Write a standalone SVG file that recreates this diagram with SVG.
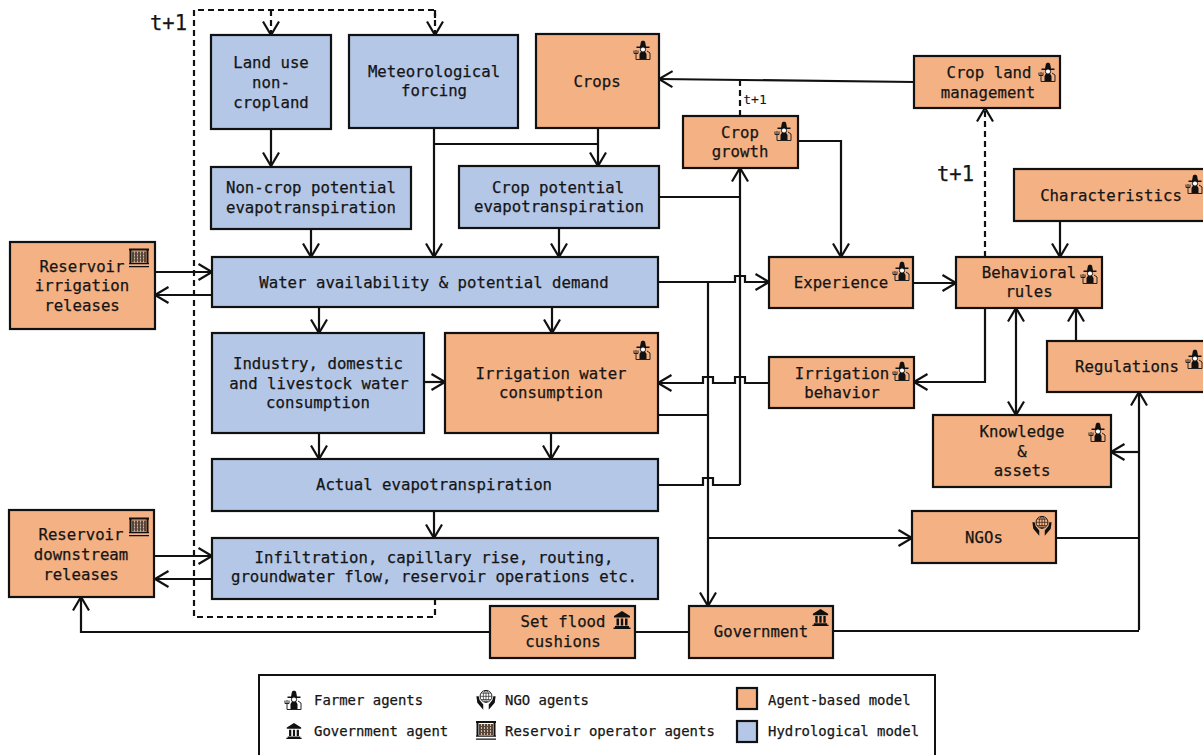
<svg xmlns="http://www.w3.org/2000/svg" width="1203" height="755" viewBox="0 0 1203 755">
<style>
.a{fill:#f4b183;stroke:#111;stroke-width:2.2}
.h{fill:#b4c7e7;stroke:#111;stroke-width:2.2}
text{font-family:"DejaVu Sans Mono","Liberation Mono",monospace;font-size:15.7px;fill:#151515;stroke:#151515;stroke-width:.25;text-anchor:middle}
.l{font-size:13.95px;text-anchor:start}
.c{fill:none;stroke:#111;stroke-width:2.2}
.d{fill:none;stroke:#111;stroke-width:2.2;stroke-dasharray:6 4}
.e{marker-end:url(#ar)}
.b{marker-end:url(#ar);marker-start:url(#ar)}
</style>
<defs>
<marker id="ar" markerUnits="userSpaceOnUse" markerWidth="18" markerHeight="20" refX="15" refY="9" orient="auto-start-reverse" viewBox="0 0 18 18"><path d="M1.5 1L15 9L1.5 17" fill="none" stroke="#111" stroke-width="2.2"/></marker>
<symbol id="farmer" viewBox="0 0 20 22" overflow="visible">
<path d="M3.5 7.5H16.5V9H3.5Z M7 7.5L8 2.5L10 1.5L12 2.5L13 7.5Z M6.5 20.5V15L8 12.5H12L13.5 15V20.5Z" fill="#111"/>
<circle cx="10" cy="10.5" r="2.6" fill="#fff" stroke="#111"/>
<path d="M3 20.5H17V14L14 12M3 20.5V14M1 11.5V14.5H5V11.5M3 14.5V11" fill="none" stroke="#222" stroke-width="1"/>
</symbol>
<symbol id="gov" viewBox="0 0 20 20" overflow="visible">
<path d="M10 1L18 6V7.5H2V6Z M3 16H17V17.5H3Z M1.5 17.5H18.5V19H1.5Z" fill="#111"/>
<path d="M4.5 8.5H7V15.5H4.5Z M8.8 8.5H11.2V15.5H8.8Z M13 8.5H15.5V15.5H13Z" fill="#111"/>
</symbol>
<symbol id="res" viewBox="0 0 20 20" overflow="visible">
<path d="M0 0.5H20V2.5H0Z M0 15H20V16.3H0Z M0 18H20V19.3H0Z M0.5 2.5H2.5V15H0.5Z M17.5 2.5H19.5V15H17.5Z" fill="#111"/>
<path d="M3 3.5H17V14.5H3Z" fill="#5a4638"/>
<path d="M5.5 3.5V14.5M8.5 3.5V14.5M11.5 3.5V14.5M14.5 3.5V14.5" stroke="#d8c8b8" stroke-width=".9" stroke-dasharray="2 1"/>
</symbol>
<symbol id="ngo" viewBox="0 0 24 24" overflow="visible">
<circle cx="12" cy="8" r="6.5" fill="none" stroke="#111"/>
<path d="M12 1.5V14.5M5.5 8H18.5M7 4.5H17M7 11.5H17" stroke="#111" stroke-width=".7" fill="none"/>
<ellipse cx="12" cy="8" rx="3" ry="6.5" fill="none" stroke="#111" stroke-width=".7"/>
<path d="M1.5 8L2.5 15L9 22.5V17L5 12L4 8Z M22.5 8L21.5 15L15 22.5V17L19 12L20 8Z" fill="#111"/>
</symbol>
</defs>

<g id="connectors">
<path class="d" d="M435 599V617H194V10H435V18"/>
<path class="d e" d="M271 10V35"/>
<path class="d e" d="M435 10V35"/>
<path class="c e" d="M271 129V166"/>
<path class="c e" d="M434 128V257"/>
<path class="c" d="M434 144H598"/>
<path class="c e" d="M598 128V166"/>
<path class="c e" d="M311 229V257"/>
<path class="c e" d="M559 228V257"/>
<path class="c e" d="M155 272H212"/>
<path class="c e" d="M212 295H155"/>
<path class="c e" d="M319 307V333"/>
<path class="c e" d="M552 307V333"/>
<path class="c e" d="M424 382H445"/>
<path class="c e" d="M319 433V459"/>
<path class="c e" d="M551 433V459"/>
<path class="c e" d="M434 511V538"/>
<path class="c e" d="M155 556H212"/>
<path class="c e" d="M212 579H155"/>
<path class="c e" d="M658 282H735V276H745V282H769"/>
<path class="c" d="M659 197H740"/>
<path class="c e" d="M740 485V168"/>
<path class="c" d="M658 485H703V478H713V485H740"/>
<path class="c e" d="M708 282V606"/>
<path class="c" d="M658 415H708"/>
<path class="c e" d="M708 538H912"/>
<path class="c e" d="M769 383H745V377H735V383H713V377H703V383H658"/>
<path class="c e" d="M798 141H841V257"/>
<path class="c e" d="M913 283H956"/>
<path class="d e" d="M985 257V108"/>
<path class="c e" d="M914 82L659 79"/>
<path class="d" d="M740 116V81"/>
<path class="c e" d="M985 308V382H914"/>
<path class="c b" d="M1016 308V415"/>
<path class="c e" d="M1076 341V308"/>
<path class="c e" d="M1060 221V257"/>
<path class="c e" d="M1139 630V392"/>
<path class="c" d="M833 631H1139"/>
<path class="c" d="M1056 538H1139"/>
<path class="c e" d="M1139 452H1111"/>
<path class="c" d="M689 632H635"/>
<path class="c e" d="M490 632H81V597"/>
</g>

<text x="168.500" y="30" style="font-size:20.500px">t+1</text>
<text x="955.500" y="181" style="font-size:20.500px">t+1</text>
<text x="755" y="104" style="font-size:13px;stroke-width:.1">t+1</text>

<g id="land-use"><rect class="h" x="211" y="35" width="120" height="94"/><text x="271" y="68">Land use</text><text x="271" y="88">non-</text><text x="271" y="108">cropland</text></g>
<g id="meteorological"><rect class="h" x="349" y="35" width="169" height="93"/><text x="434" y="77">Meteorological</text><text x="434" y="96">forcing</text></g>
<g id="crops"><rect class="a" x="536" y="34" width="123" height="94"/><text x="597" y="87">Crops</text><use href="#farmer" x="633" y="39" width="20" height="22"/></g>
<g id="crop-land"><rect class="a" x="914" y="56" width="146" height="52"/><text x="989" y="78">Crop land</text><text x="988" y="98">management</text><use href="#farmer" x="1038" y="61" width="20" height="22"/></g>
<g id="crop-growth"><rect class="a" x="683" y="116" width="115" height="52"/><text x="740" y="138">Crop</text><text x="740" y="157">growth</text><use href="#farmer" x="774" y="120" width="20" height="22"/></g>
<g id="characteristics"><rect class="a" x="1014" y="169" width="195" height="52"/><text x="1111" y="201">Characteristics</text><use href="#farmer" x="1185" y="173" width="20" height="22"/></g>
<g id="non-crop-pet"><rect class="h" x="211" y="167" width="200" height="62"/><text x="311" y="193">Non-crop potential</text><text x="311" y="213">evapotranspiration</text></g>
<g id="crop-pet"><rect class="h" x="459" y="166" width="200" height="62"/><text x="558" y="193">Crop potential</text><text x="559" y="212">evapotranspiration</text></g>
<g id="water"><rect class="h" x="212" y="257" width="446" height="50"/><text x="434" y="288">Water availability &amp; potential demand</text></g>
<g id="reservoir-irrigation"><rect class="a" x="10" y="242" width="145" height="87"/><text x="82" y="272">Reservoir</text><text x="82" y="291">irrigation</text><text x="82" y="311">releases</text><use href="#res" x="129" y="248" width="20" height="20"/></g>
<g id="experience"><rect class="a" x="769" y="257" width="144" height="51"/><text x="841" y="288">Experience</text><use href="#farmer" x="892" y="260" width="20" height="22"/></g>
<g id="behavioral"><rect class="a" x="956" y="257" width="146" height="51"/><text x="1029" y="278">Behavioral</text><text x="1029" y="297">rules</text><use href="#farmer" x="1080" y="263" width="20" height="22"/></g>
<g id="industry"><rect class="h" x="212" y="333" width="212" height="100"/><text x="318" y="369">Industry, domestic</text><text x="319" y="389">and livestock water</text><text x="318" y="408">consumption</text></g>
<g id="irrigation-water"><rect class="a" x="445" y="333" width="213" height="100"/><text x="551" y="379">Irrigation water</text><text x="551" y="398">consumption</text><use href="#farmer" x="633" y="339" width="20" height="22"/></g>
<g id="irrigation-behavior"><rect class="a" x="769" y="357" width="145" height="51"/><text x="842" y="379">Irrigation</text><text x="842" y="398">behavior</text><use href="#farmer" x="892" y="360" width="20" height="22"/></g>
<g id="regulations"><rect class="a" x="1047" y="341" width="162" height="51"/><text x="1127" y="372">Regulations</text><use href="#farmer" x="1185" y="348" width="20" height="22"/></g>
<g id="knowledge"><rect class="a" x="933" y="415" width="178" height="72"/><text x="1022" y="437">Knowledge</text><text x="1022" y="457">&amp;</text><text x="1022" y="476">assets</text><use href="#farmer" x="1088" y="421" width="20" height="22"/></g>
<g id="actual"><rect class="h" x="212" y="459" width="446" height="52"/><text x="434" y="490">Actual evapotranspiration</text></g>
<g id="ngos"><rect class="a" x="912" y="511" width="144" height="52"/><text x="984" y="543">NGOs</text><use href="#ngo" x="1031" y="515" width="22" height="22"/></g>
<g id="infiltration"><rect class="h" x="212" y="538" width="446" height="61"/><text x="434" y="563">Infiltration, capillary rise, routing,</text><text x="434" y="582">groundwater flow, reservoir operations etc.</text></g>
<g id="reservoir-downstream"><rect class="a" x="9" y="510" width="145" height="87"/><text x="81" y="540">Reservoir</text><text x="81" y="560">downstream</text><text x="81" y="580">releases</text><use href="#res" x="129" y="517" width="20" height="20"/></g>
<g id="set-flood"><rect class="a" x="490" y="606" width="145" height="52"/><text x="563" y="627">Set flood</text><text x="563" y="647">cushions</text><use href="#gov" x="612" y="610" width="20" height="20"/></g>
<g id="government"><rect class="a" x="689" y="606" width="144" height="52"/><text x="761" y="637">Government</text><use href="#gov" x="811" y="608" width="19" height="19"/></g>

<g id="legend">
<rect x="259" y="675" width="676" height="90" fill="#fff" stroke="#111" stroke-width="2"/>
<use href="#farmer" x="284" y="689" width="20" height="22"/>
<text class="l" x="314" y="705">Farmer agents</text>
<use href="#gov" x="285" y="722" width="18" height="18"/>
<text class="l" x="314" y="736">Government agent</text>
<use href="#ngo" x="475" y="689" width="22" height="22"/>
<text class="l" x="505" y="705">NGO agents</text>
<use href="#res" x="476" y="720" width="20" height="21"/>
<text class="l" x="505" y="736">Reservoir operator agents</text>
<rect class="a" x="737" y="688" width="20" height="21"/>
<text class="l" x="768" y="705">Agent-based model</text>
<rect class="h" x="737" y="721" width="20" height="21"/>
<text class="l" x="768" y="736">Hydrological model</text>
</g>
</svg>
